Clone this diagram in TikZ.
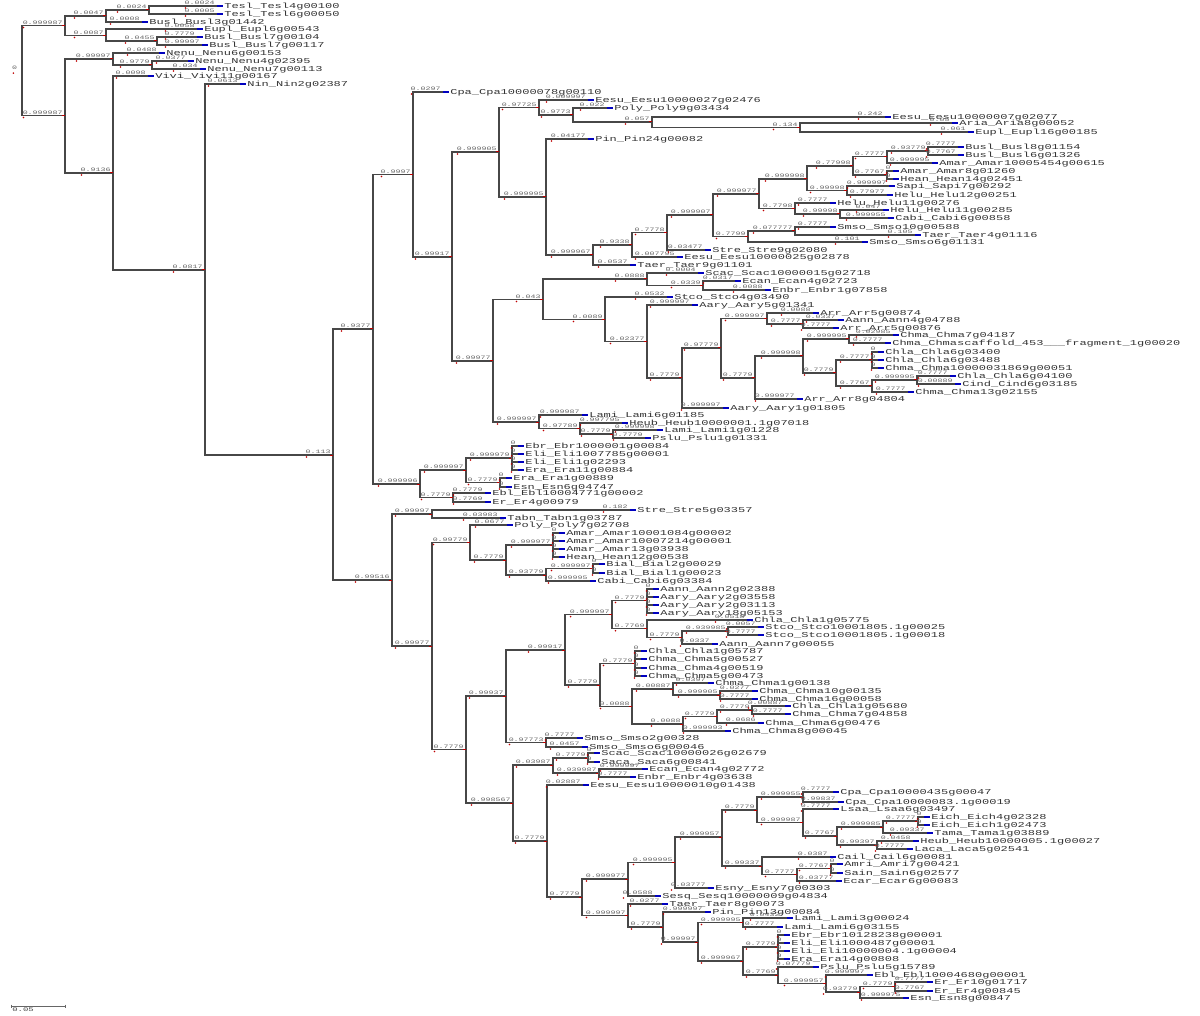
\documentclass[tikz,border=0pt]{standalone}
\usepackage{fontspec}
\newfontfamily\labfont{Liberation Mono}
\pgfdeclarelayer{bg}
\pgfsetlayers{bg,main}
\tikzset{
 br/.style={draw=black!72, line width=1.15pt},
 tipc/.style={draw=blue!75!black, line width=1.15pt},
 rtick/.style={draw=red!75!black, line width=1pt},
 rdot/.style={fill=red!75!black},
 leaflab/.style={anchor=west, inner sep=0pt, font={\labfont\fontsize{7.5}{8}\selectfont}, text=black!80, xscale=1.6},
 bl/.style={anchor=south east, inner sep=0.3pt, font={\labfont\fontsize{5.2}{5.5}\selectfont}, text=black!60, xscale=1.6},
 sbar/.style={draw=black!60, line width=0.8pt}
}
\newcommand\IN[3]{\coordinate (#1) at (#2,#3); \draw[rtick] (#1) ++(-3.5,0) -- ++(3.5,0);}
\newcommand\LF[4]{\coordinate (#1) at (#2,#3); \draw[tipc] (#1) -- ++(6,0); \path (#1) ++(7,0.3) node[leaflab] (#1-t) {#4};}
\newcommand\BR[3]{\begin{pgfonlayer}{bg}\draw[br] (#1) |- (#2);\end{pgfonlayer}\path (#2) ++(-1.5,-0.6) node[bl] (#2-b) {#3}; \fill[rdot] (#2-b.south west) ++(1.6,2.6) circle (0.9pt);}
\begin{document}
\begin{tikzpicture}[x=1pt,y=-1pt]
\useasboundingbox (0,0) rectangle (1200,1016);
\begin{pgfonlayer}{bg}
\fill[white] (0,0) rectangle (1200,1016);
\end{pgfonlayer}
% root
\coordinate (R) at (22,70.5);
\path (R) ++(-4,0) node[bl] (R-b) {0};
\fill[rdot] (R-b.south west) ++(2,2.6) circle (0.9pt);
% top clade
\IN{A}{65}{25.5} \BR{R}{A}{0.999987}
\IN{B}{65}{115.5} \BR{R}{B}{0.999987}
\IN{n1}{106}{16} \BR{A}{n1}{0.0047}
\IN{n2}{149}{10} \BR{n1}{n2}{0.0024}
\LF{L1}{217}{6}{Tesl\_Tesl4g00100} \BR{n2}{L1}{0.0024}
\LF{L2}{217}{14}{Tesl\_Tesl6g00050} \BR{n2}{L2}{0.0005}
\LF{L3}{142}{22}{Busl\_Busl3g01442} \BR{n1}{L3}{0.0008}
\IN{n3}{106}{35.5} \BR{A}{n3}{0.0087}
\LF{L4}{197}{29}{Eupl\_Eupl6g00543} \BR{n3}{L4}{0.0058}
\IN{n4}{157}{41} \BR{n3}{n4}{0.0455}
\LF{L5}{197}{37}{Busl\_Busl7g00104} \BR{n4}{L5}{0.7779}
\LF{L6}{202}{45}{Busl\_Busl7g00117} \BR{n4}{L6}{0.99997}
\IN{C}{113}{59} \BR{B}{C}{0.99997}
\LF{L7}{159}{53}{Nenu\_Nenu6g00153} \BR{C}{L7}{0.0488}
\IN{E}{152}{65} \BR{C}{E}{0.9779}
\LF{L8}{188}{61}{Nenu\_Nenu4g02395} \BR{E}{L8}{0.0377}
\LF{L9}{200}{69}{Nenu\_Nenu7g00113} \BR{E}{L9}{0.034}
\IN{D}{113}{173} \BR{B}{D}{0.9136}
\LF{L10}{148}{76}{Vivi\_Vivi11g00167} \BR{D}{L10}{0.0098}
\IN{F}{205}{270} \BR{D}{F}{0.0817}
\LF{L11}{240}{84}{Nin\_Nin2g02387} \BR{F}{L11}{0.0613}
\IN{G}{333}{455} \BR{F}{G}{0.113}
\IN{H}{373}{329} \BR{G}{H}{0.9377}
\IN{I}{392}{580} \BR{G}{I}{0.99516}
% clade J
\IN{J}{413}{174.5} \BR{H}{J}{0.9997}
\LF{Cpa1}{443}{92}{Cpa\_Cpa10000078g00110} \BR{J}{Cpa1}{0.0297}
\IN{J2}{452}{257} \BR{J}{J2}{0.99917}
\IN{J3}{499}{152} \BR{J2}{J3}{0.999905}
\IN{J5}{539}{107.5} \BR{J3}{J5}{0.97725}
\LF{Ees1}{588}{100}{Eesu\_Eesu10000027g02476} \BR{J5}{Ees1}{0.009997}
\IN{J7}{573}{115} \BR{J5}{J7}{0.9773}
\LF{Poly1}{607}{108}{Poly\_Poly9g03434} \BR{J7}{Poly1}{0.022}
\IN{J8}{652}{122} \BR{J7}{J8}{0.057}
\LF{Ees2}{885}{117}{Eesu\_Eesu10000007g02077} \BR{J8}{Ees2}{0.242}
\IN{J9}{800}{127.5} \BR{J8}{J9}{0.134}
\LF{Aria}{952}{123}{Aria\_Aria8g00052} \BR{J9}{Aria}{0.05}
\LF{Eupl2}{968}{132}{Eupl\_Eupl16g00185} \BR{J9}{Eupl2}{0.061}
\IN{J6}{546}{197} \BR{J3}{J6}{0.999995}
\LF{Pin1}{588}{139}{Pin\_Pin24g00082} \BR{J6}{Pin1}{0.04177}
\IN{J10}{593}{255} \BR{J6}{J10}{0.999967}
\IN{J11}{632}{245} \BR{J10}{J11}{0.9338}
\LF{Taer1}{630}{265}{Taer\_Taer9g01101} \BR{J10}{Taer1}{0.0537}
\IN{J12}{667}{232.5} \BR{J11}{J12}{0.7778}
\LF{Ees3}{677}{257}{Eesu\_Eesu10000025g02878} \BR{J11}{Ees3}{0.007795}
\IN{J13}{713}{215} \BR{J12}{J13}{0.999907}
\LF{Stre1}{705}{250}{Stre\_Stre9g02080} \BR{J12}{Stre1}{0.03477}
\IN{J14}{759}{194} \BR{J13}{J14}{0.999977}
\IN{J15}{748}{236.5} \BR{J13}{J15}{0.7799}
\IN{m1}{807}{179} \BR{J14}{m1}{0.999998}
\IN{m7}{795}{208.5} \BR{J14}{m7}{0.7798}
\IN{m2}{853}{166} \BR{m1}{m2}{0.77998}
\IN{m6}{847}{190.5} \BR{m1}{m6}{0.99998}
\IN{m3}{887}{156.5} \BR{m2}{m3}{0.7777}
\IN{m5}{887}{175} \BR{m2}{m5}{0.7767}
\IN{m4}{928}{151} \BR{m3}{m4}{0.93779}
\LF{Bu8}{958}{147}{Busl\_Busl8g01154} \BR{m4}{Bu8}{0.7777}
\LF{Bu6}{958}{155}{Busl\_Busl6g01326} \BR{m4}{Bu6}{0.7767}
\LF{Am1}{932}{163}{Amar\_Amar10005454g00615} \BR{m3}{Am1}{0.999995}
\LF{Amr1}{893}{171}{Amar\_Amar8g01260} \BR{m5}{Amr1}{0}
\LF{Hean1}{893}{179}{Hean\_Hean14g02451} \BR{m5}{Hean1}{0}
\LF{Sapi}{889}{186}{Sapi\_Sapi7g00292} \BR{m6}{Sapi}{0.999997}
\LF{Helu1}{887}{195}{Helu\_Helu12g00251} \BR{m6}{Helu1}{0.77977}
\LF{Helu2}{830}{203}{Helu\_Helu11g00276} \BR{m7}{Helu2}{0.7777}
\IN{m8}{840}{214} \BR{m7}{m8}{0.99998}
\LF{Helu3}{883}{210}{Helu\_Helu11g00285} \BR{m8}{Helu3}{0.047}
\LF{Cabi1}{888}{218}{Cabi\_Cabi6g00858} \BR{m8}{Cabi1}{0.999955}
\IN{m9}{795}{231} \BR{J15}{m9}{0.077777}
\LF{Smso1}{830}{227}{Smso\_Smso10g00588} \BR{m9}{Smso1}{0.7777}
\LF{Taer2}{915}{235}{Taer\_Taer4g01116} \BR{m9}{Taer2}{0.105}
\LF{Smso2}{862}{242}{Smso\_Smso6g01131} \BR{J15}{Smso2}{0.101}
\IN{J4}{493}{361} \BR{J2}{J4}{0.99977}
\IN{J16}{543}{299.5} \BR{J4}{J16}{0.043}
\IN{J18}{647}{279} \BR{J16}{J18}{0.0888}
\LF{Scac1}{698}{273}{Scac\_Scac10000015g02718} \BR{J18}{Scac1}{0.0004}
\IN{J19}{703}{285.5} \BR{J18}{J19}{0.0339}
\LF{Ecan1}{735}{281}{Ecan\_Ecan4g02723} \BR{J19}{Ecan1}{0.0317}
\LF{Enbr1}{765}{290}{Enbr\_Enbr1g07858} \BR{J19}{Enbr1}{0.0088}
\IN{J20}{605}{319.5} \BR{J16}{J20}{0.0089}
\LF{Stco1}{667}{297}{Stco\_Stco4g03490} \BR{J20}{Stco1}{0.0532}
\IN{J21}{647}{341.5} \BR{J20}{J21}{0.02377}
\LF{Aary1}{692}{305}{Aary\_Aary5g01341} \BR{J21}{Aary1}{0.999997}
\IN{J22}{682}{378} \BR{J21}{J22}{0.7779}
\IN{J23}{721}{348} \BR{J22}{J23}{0.97779}
\LF{Aary2}{723}{408}{Aary\_Aary1g01805} \BR{J22}{Aary2}{0.999997}
\IN{J24}{767}{318.5} \BR{J23}{J24}{0.999997}
\IN{J25}{755}{378} \BR{J23}{J25}{0.7779}
\LF{Arr1}{813}{313}{Arr\_Arr5g00874} \BR{J24}{Arr1}{0.0088}
\IN{J24b}{803}{324} \BR{J24}{J24b}{0.7777}
\LF{Aann1}{838}{320}{Aann\_Aann4g04788} \BR{J24b}{Aann1}{0.0337}
\LF{Arr2}{833}{328}{Arr\_Arr5g00876} \BR{J24b}{Arr2}{0.7777}
\IN{J26}{803}{356} \BR{J25}{J26}{0.999998}
\LF{Arr3}{797}{399}{Arr\_Arr8g04804} \BR{J25}{Arr3}{0.999977}
\IN{J26a}{849}{339} \BR{J26}{J26a}{0.999995}
\IN{J27}{836}{373} \BR{J26}{J27}{0.7779}
\LF{Chma1}{893}{335}{Chma\_Chma7g04187} \BR{J26a}{Chma1}{0.02985}
\LF{Chma2}{885}{343}{Chma\_Chmascaffold\_453\_\_\_fragment\_1g00020} \BR{J26a}{Chma2}{0.7777}
\IN{J27a}{872}{360} \BR{J27}{J27a}{0.7777}
\IN{J27b}{872}{386} \BR{J27}{J27b}{0.7767}
\LF{Chla1}{878}{352}{Chla\_Chla6g03400} \BR{J27a}{Chla1}{0}
\LF{Chla2}{878}{360}{Chla\_Chla6g03488} \BR{J27a}{Chla2}{0}
\LF{Chma3}{878}{368}{Chma\_Chma10000031869g00051} \BR{J27a}{Chma3}{0}
\IN{J27c}{917}{380} \BR{J27b}{J27c}{0.999995}
\LF{Chma4}{908}{392}{Chma\_Chma13g02155} \BR{J27b}{Chma4}{0.7777}
\LF{Chla3}{950}{376}{Chla\_Chla6g04100} \BR{J27c}{Chla3}{0.7777}
\LF{Cind}{955}{384}{Cind\_Cind6g03185} \BR{J27c}{Cind}{0.00889}
\IN{J17}{539}{422} \BR{J4}{J17}{0.999997}
\LF{Lami1}{582}{415}{Lami\_Lami6g01185} \BR{J17}{Lami1}{0.999987}
\IN{J17a}{580}{428.5} \BR{J17}{J17a}{0.97789}
\LF{Heub1}{622}{423}{Heub\_Heub10000001.1g07018} \BR{J17a}{Heub1}{0.997795}
\IN{J17b}{613}{434} \BR{J17a}{J17b}{0.7779}
\LF{Lami2}{657}{430}{Lami\_Lami1g01228} \BR{J17b}{Lami2}{0.999998}
\LF{Pslu1}{645}{438}{Pslu\_Pslu1g01331} \BR{J17b}{Pslu1}{0.7779}
% clade K
\IN{K}{420}{484} \BR{H}{K}{0.999996}
\IN{K1}{466}{470} \BR{K}{K1}{0.999997}
\IN{K2}{453}{497.5} \BR{K}{K2}{0.7779}
\IN{K1a}{512}{458} \BR{K1}{K1a}{0.999979}
\IN{K1b}{500}{482.5} \BR{K1}{K1b}{0.7779}
\LF{Ebr1}{518}{446}{Ebr\_Ebr1000001g00084} \BR{K1a}{Ebr1}{0}
\LF{Eli1}{518}{454}{Eli\_Eli1007785g00001} \BR{K1a}{Eli1}{0}
\LF{Eli2}{518}{462}{Eli\_Eli1g02293} \BR{K1a}{Eli2}{0}
\LF{Era1}{518}{470}{Era\_Era11g00884} \BR{K1a}{Era1}{0}
\LF{Era2}{506}{478}{Era\_Era1g00889} \BR{K1b}{Era2}{0}
\LF{Esn1}{506}{487}{Esn\_Esn6g04747} \BR{K1b}{Esn1}{0}
\LF{Ebl1}{485}{493}{Ebl\_Ebl10004771g00002} \BR{K2}{Ebl1}{0.7779}
\LF{Er1}{485}{502}{Er\_Er4g00979} \BR{K2}{Er1}{0.7769}
% clade I
\IN{I1}{432}{514} \BR{I}{I1}{0.99997}
\IN{I2}{432}{646} \BR{I}{I2}{0.99977}
\LF{Stre2}{630}{510}{Stre\_Stre5g03357} \BR{I1}{Stre2}{0.182}
\LF{Tabn}{500}{518}{Tabn\_Tabn1g03787} \BR{I1}{Tabn}{0.03983}
\IN{I3}{470}{542.5} \BR{I2}{I3}{0.99779}
\IN{I4}{466}{749.5} \BR{I2}{I4}{0.7779}
\LF{Poly2}{507}{525}{Poly\_Poly7g02708} \BR{I3}{Poly2}{0.0677}
\IN{I3a}{506}{560} \BR{I3}{I3a}{0.7779}
\IN{I3b}{553}{545} \BR{I3a}{I3b}{0.999977}
\IN{I3c}{546}{575} \BR{I3a}{I3c}{0.93779}
\LF{Am2}{559}{533}{Amar\_Amar10001084g00002} \BR{I3b}{Am2}{0}
\LF{Am3}{559}{541}{Amar\_Amar10007214g00001} \BR{I3b}{Am3}{0}
\LF{Amr2}{559}{549}{Amar\_Amar13g03938} \BR{I3b}{Amr2}{0}
\LF{Hean2}{559}{557}{Hean\_Hean12g00538} \BR{I3b}{Hean2}{0}
\IN{I3d}{593}{568.5} \BR{I3c}{I3d}{0.999997}
\LF{Cabi2}{590}{581}{Cabi\_Cabi6g03384} \BR{I3c}{Cabi2}{0.999995}
\LF{Bial1}{599}{564}{Bial\_Bial2g00029} \BR{I3d}{Bial1}{0}
\LF{Bial2}{599}{573}{Bial\_Bial1g00023} \BR{I3d}{Bial2}{0}
\IN{I5}{506}{696} \BR{I4}{I5}{0.99937}
\IN{I6}{513}{803} \BR{I4}{I6}{0.998567}
\IN{I9}{565}{650} \BR{I5}{I9}{0.99917}
\IN{I10}{546}{742.5} \BR{I5}{I10}{0.97773}
\IN{I11}{612}{614.6} \BR{I9}{I11}{0.999997}
\IN{I12}{600}{685} \BR{I9}{I12}{0.7779}
\IN{I11a}{647}{600.5} \BR{I11}{I11a}{0.7779}
\IN{I11b}{647}{628.75} \BR{I11}{I11b}{0.7769}
\LF{Aann2}{653}{589}{Aann\_Aann2g02388} \BR{I11a}{Aann2}{0}
\LF{Aary3}{653}{597}{Aary\_Aary2g03558} \BR{I11a}{Aary3}{0}
\LF{Aary4}{653}{605}{Aary\_Aary2g03113} \BR{I11a}{Aary4}{0}
\LF{Aary5}{653}{613}{Aary\_Aary18g05153} \BR{I11a}{Aary5}{0}
\LF{Chla4}{747}{620}{Chla\_Chla1g05775} \BR{I11b}{Chla4}{0.0518}
\IN{I11c}{682}{637.5} \BR{I11b}{I11c}{0.7779}
\IN{I11d}{728}{631} \BR{I11c}{I11d}{0.939985}
\LF{Aann3}{712}{644}{Aann\_Aann7g00055} \BR{I11c}{Aann3}{0.0337}
\LF{Stco2}{758}{627}{Stco\_Stco10001805.1g00025} \BR{I11d}{Stco2}{0.0057}
\LF{Stco3}{758}{635}{Stco\_Stco10001805.1g00018} \BR{I11d}{Stco3}{0.7777}
\IN{I12a}{635}{663.5} \BR{I12}{I12a}{0.7779}
\IN{I12b}{632}{706.5} \BR{I12}{I12b}{0.0088}
\LF{Chla5}{641}{651}{Chla\_Chla1g05787} \BR{I12a}{Chla5}{0}
\LF{Chma5}{641}{659}{Chma\_Chma5g00527} \BR{I12a}{Chma5}{0}
\LF{Chma6}{641}{668}{Chma\_Chma4g00519} \BR{I12a}{Chma6}{0}
\LF{Chma7}{641}{676}{Chma\_Chma5g00473} \BR{I12a}{Chma7}{0}
\IN{I12c}{673}{689} \BR{I12b}{I12c}{0.00887}
\IN{I12e}{683}{724} \BR{I12b}{I12e}{0.0088}
\LF{Chma8}{708}{683}{Chma\_Chma1g00138} \BR{I12c}{Chma8}{0.0397}
\IN{I12d}{720}{695} \BR{I12c}{I12d}{0.999905}
\LF{Chma9}{752}{691}{Chma\_Chma10g00135} \BR{I12d}{Chma9}{0.0277}
\LF{Chma10}{752}{699}{Chma\_Chma16g00058} \BR{I12d}{Chma10}{0.7777}
\IN{I12f}{717}{716.5} \BR{I12e}{I12f}{0.7779}
\LF{Chma13}{725}{731}{Chma\_Chma8g00045} \BR{I12e}{Chma13}{0.999993}
\IN{I12g}{752}{710} \BR{I12f}{I12g}{0.7779}
\LF{Chma12}{758}{723}{Chma\_Chma6g00476} \BR{I12f}{Chma12}{0.0686}
\LF{Chla6}{785}{706}{Chla\_Chla1g05680} \BR{I12g}{Chla6}{0.00887}
\LF{Chma11}{785}{714}{Chma\_Chma7g04858} \BR{I12g}{Chma11}{0.7777}
\LF{Smso3}{577}{738}{Smso\_Smso2g00328} \BR{I10}{Smso3}{0.7777}
\LF{Smso4}{582}{747}{Smso\_Smso6g00046} \BR{I10}{Smso4}{0.0457}
\IN{I7}{553}{765} \BR{I6}{I7}{0.03987}
\IN{I8}{547}{841} \BR{I6}{I8}{0.7779}
\IN{I7a}{588}{758} \BR{I7}{I7a}{0.7779}
\IN{I7b}{599}{773} \BR{I7}{I7b}{0.939987}
\LF{Scac2}{594}{753}{Scac\_Scac10000026g02679} \BR{I7a}{Scac2}{0}
\LF{Saca}{594}{762}{Saca\_Saca6g00841} \BR{I7a}{Saca}{0}
\LF{Ecan2}{642}{769}{Ecan\_Ecan4g02772} \BR{I7b}{Ecan2}{0.999997}
\LF{Enbr2}{630}{777}{Enbr\_Enbr4g03638} \BR{I7b}{Enbr2}{0.7777}
\LF{Ees4}{583}{785}{Eesu\_Eesu10000010g01438} \BR{I8}{Ees4}{0.02887}
\IN{I13}{582}{897} \BR{I8}{I13}{0.7779}
\IN{I14}{628}{879} \BR{I13}{I14}{0.999977}
\IN{I15}{628}{915.5} \BR{I13}{I15}{0.999997}
\IN{I16}{675}{862.5} \BR{I14}{I16}{0.999995}
\LF{Sesq}{655}{896}{Sesq\_Sesq10000009g04834} \BR{I14}{Sesq}{0.0588}
\IN{I17}{722}{837} \BR{I16}{I17}{0.999957}
\LF{Esny}{708}{888}{Esny\_Esny7g00303} \BR{I16}{Esny}{0.03777}
\IN{I18}{757}{810} \BR{I17}{I18}{0.7779}
\IN{I19}{762}{866} \BR{I17}{I19}{0.99337}
\IN{I18a}{803}{797} \BR{I18}{I18a}{0.999955}
\IN{I18b}{803}{822.5} \BR{I18}{I18b}{0.999987}
\LF{Cpa2}{833}{792}{Cpa\_Cpa10000435g00047} \BR{I18a}{Cpa2}{0.7777}
\LF{Cpa3}{838}{802}{Cpa\_Cpa10000083.1g00019} \BR{I18a}{Cpa3}{0.99837}
\LF{Lsaa}{833}{809}{Lsaa\_Lsaa6g03497} \BR{I18b}{Lsaa}{0.7777}
\IN{I18c}{837}{836} \BR{I18b}{I18c}{0.7767}
\IN{I18d}{883}{827} \BR{I18c}{I18d}{0.999985}
\IN{I18f}{877}{845} \BR{I18c}{I18f}{0.99397}
\IN{I18e}{918}{821} \BR{I18d}{I18e}{0.7777}
\LF{Tama}{927}{833}{Tama\_Tama1g03889} \BR{I18d}{Tama}{0.09337}
\LF{Eich1}{924}{817}{Eich\_Eich4g02328} \BR{I18e}{Eich1}{0}
\LF{Eich2}{924}{825}{Eich\_Eich1g02473} \BR{I18e}{Eich2}{0}
\LF{Heub2}{913}{841}{Heub\_Heub10000005.1g00027} \BR{I18f}{Heub2}{0.0458}
\LF{Laca}{907}{849}{Laca\_Laca5g02541} \BR{I18f}{Laca}{0.7777}
\LF{Cail}{830}{857}{Cail\_Cail6g00081} \BR{I19}{Cail}{0.0387}
\IN{I19a}{797}{874.5} \BR{I19}{I19a}{0.7777}
\IN{I19b}{831}{868.5} \BR{I19a}{I19b}{0.7767}
\LF{Ecar}{836}{881}{Ecar\_Ecar6g00083} \BR{I19a}{Ecar}{0.03777}
\LF{Amri}{837}{864}{Amri\_Amri7g00421} \BR{I19b}{Amri}{0}
\LF{Sain}{837}{873}{Sain\_Sain6g02577} \BR{I19b}{Sain}{0}
\LF{Taer3}{662}{904}{Taer\_Taer8g00073} \BR{I15}{Taer3}{0.0277}
\IN{I15a}{663}{927} \BR{I15}{I15a}{0.7779}
\LF{Pin2}{705}{912}{Pin\_Pin13g00084} \BR{I15a}{Pin2}{0.999997}
\IN{I15b}{698}{942} \BR{I15a}{I15b}{0.99997}
\IN{I15c}{743}{922.5} \BR{I15b}{I15c}{0.999995}
\IN{I15d}{743}{961} \BR{I15b}{I15d}{0.999967}
\LF{Lami3}{787}{918}{Lami\_Lami3g00024} \BR{I15c}{Lami3}{0.04327}
\LF{Lami4}{777}{927}{Lami\_Lami6g03155} \BR{I15c}{Lami4}{0.7777}
\IN{I15e}{778}{947} \BR{I15d}{I15e}{0.7779}
\IN{I15f}{778}{975} \BR{I15d}{I15f}{0.7769}
\LF{Ebr2}{784}{935}{Ebr\_Ebr10128238g00001} \BR{I15e}{Ebr2}{0}
\LF{Eli3}{784}{943}{Eli\_Eli1000487g00001} \BR{I15e}{Eli3}{0}
\LF{Eli4}{784}{951}{Eli\_Eli10000004.1g00004} \BR{I15e}{Eli4}{0}
\LF{Era3}{784}{959}{Era\_Era14g00808} \BR{I15e}{Era3}{0}
\LF{Pslu2}{813}{967}{Pslu\_Pslu5g15789} \BR{I15f}{Pslu2}{0.07779}
\IN{I15g}{826}{983.5} \BR{I15f}{I15g}{0.999957}
\LF{Ebl2}{867}{975}{Ebl\_Ebl10004680g00001} \BR{I15g}{Ebl2}{0.999997}
\IN{I15h}{860}{992} \BR{I15g}{I15h}{0.93779}
\IN{I15i}{895}{986.5} \BR{I15h}{I15i}{0.7779}
\LF{Esn2}{903}{998}{Esn\_Esn8g00847} \BR{I15h}{Esn2}{0.999975}
\LF{Er2}{927}{982}{Er\_Er10g01717} \BR{I15i}{Er2}{0.7777}
\LF{Er3}{927}{991}{Er\_Er4g00845} \BR{I15i}{Er3}{0.7767}
% scale bar
\coordinate (sbL) at (11,1006);
\coordinate (sbR) at (65,1006);
\draw[sbar] (sbL) -- (sbR);
\draw[sbar] (sbL) ++(0,-1.5) -- ++(0,3);
\draw[sbar] (sbR) ++(0,-1.5) -- ++(0,3);
\node[anchor=north west, inner sep=0pt, font={\labfont\fontsize{5.6}{6}\selectfont}, text=black!72, xscale=1.6] (sbt) at (12,1008) {0.05};
\end{tikzpicture}
\end{document}
